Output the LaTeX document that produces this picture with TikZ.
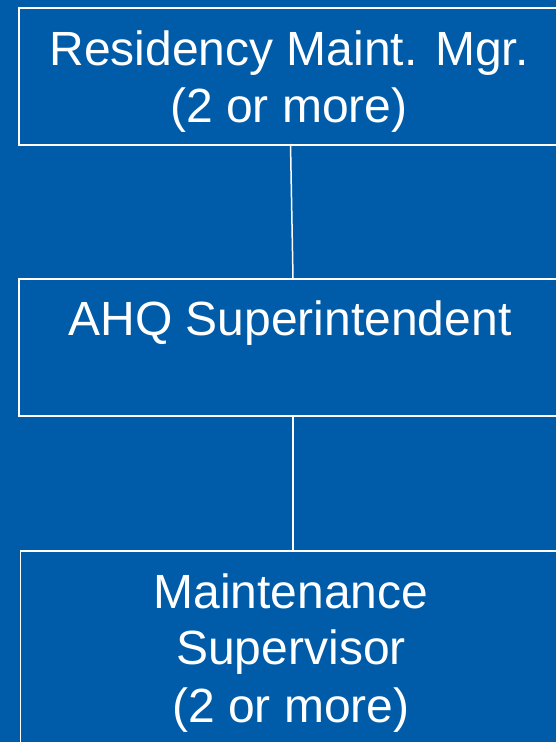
\documentclass[tikz,border=0pt]{standalone}
\usepackage{fontspec}
\setmainfont{Liberation Sans}
\definecolor{bgblue}{RGB}{0,92,168}
\begin{document}
\begin{tikzpicture}[x=1pt,y=1pt,
  box/.style={draw=white,line width=1.5pt,rectangle,inner sep=0pt,anchor=north west,minimum width=544pt},
  lbl/.style={text=white,font=\fontsize{48}{57}\selectfont,anchor=base,inner sep=0pt},
  conn/.style={draw=white,line width=1.5pt}]
\fill[bgblue] (0,0) rectangle (556,-742);
\useasboundingbox (0,0) rectangle (556,-742);
\node[box,minimum height=137pt] (b1) at (18,-7) {};
\node[box,minimum height=137pt] (b2) at (18,-278) {};
\node[box,minimum height=210pt,minimum width=542.5pt] (b3) at (19.5,-550) {};
\node[lbl] (t1a) at (289,-65) {Residency Maint. Mgr.};
\node[lbl] (t1b) at (289,-122) {(2 or more)};
\node[lbl] (t2a) at (290,-335) {AHQ Superintendent};
\node[lbl] (t3a) at (291,-608) {Maintenance};
\node[lbl] (t3b) at (291,-664) {Supervisor};
\node[lbl] (t3c) at (291,-722) {(2 or more)};
\coordinate (c1a) at (290.5,-144);
\coordinate (c1b) at (293,-278);
\coordinate (c2a) at (293,-415);
\coordinate (c2b) at (293,-550);
\draw[conn] (c1a) -- (c1b);
\draw[conn] (c2a) -- (c2b);
\end{tikzpicture}
\end{document}
